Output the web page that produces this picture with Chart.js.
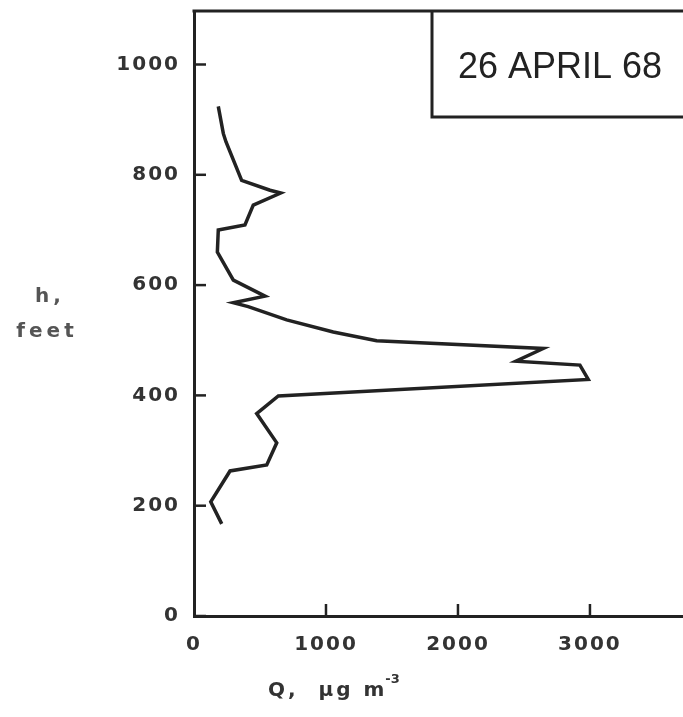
<!DOCTYPE html>
<html>
<head>
<meta charset="utf-8">
<script src="https://cdn.jsdelivr.net/npm/chart.js@4"></script>
<style>
  html, body { margin: 0; padding: 0; background: #fff; }
  #wrap { width: 683px; height: 717px; }
</style>
</head>
<body>
<div id="wrap"><canvas id="myChart" width="683" height="717"></canvas></div>
<script>
// profile, top to bottom
const qValues = [184, 222, 242, 361, 576, 657, 449, 386, 184, 177, 298, 538, 298, 411, 702, 1055, 1384, 2646, 2439, 2924, 2987, 639, 475, 627, 551, 273, 127, 210];
const hValues = [924, 875, 860, 790, 772, 767, 745, 709, 700, 660, 609, 580, 568, 561, 537, 515, 499, 485, 462, 455, 429, 399, 367, 314, 274, 263, 207, 167];

const xTicks = [0, 1000, 2000, 3000];
const yTicks = [0, 200, 400, 600, 800, 1000];

const dateLabel = "26 APRIL 68";
const ink = "#222";
const tickFont = { family: "DejaVu Sans", size: 20, weight: "bold" };

const points = qValues.map((q, i) => ({ x: q, y: hValues[i] }));

// wider letter spacing for the tick labels
const spacing = {
  id: "spacing",
  beforeDraw(chart) {
    chart.ctx.letterSpacing = "2px";
  },
  afterDraw(chart) {
    chart.ctx.letterSpacing = "0px";
  },
};

// frame, inward ticks, date box and axis titles
const decorations = {
  id: "decorations",
  afterDraw(chart) {
    const { ctx, chartArea, scales } = chart;
    ctx.save();
    ctx.letterSpacing = "0px";
    ctx.strokeStyle = ink;
    ctx.lineWidth = 3;
    ctx.lineCap = "butt";

    // top frame line
    ctx.beginPath();
    ctx.moveTo(chartArea.left - 1.5, chartArea.top);
    ctx.lineTo(chart.width, chartArea.top);
    ctx.stroke();

    // inward ticks
    ctx.lineWidth = 2.5;
    yTicks.forEach((v) => {
      const y = scales.y.getPixelForValue(v);
      ctx.beginPath();
      ctx.moveTo(chartArea.left, y);
      ctx.lineTo(chartArea.left + 12, y);
      ctx.stroke();
    });
    xTicks.slice(1).forEach((v) => {
      const x = scales.x.getPixelForValue(v);
      ctx.beginPath();
      ctx.moveTo(x, chartArea.bottom);
      ctx.lineTo(x, chartArea.bottom - 12);
      ctx.stroke();
    });

    // date box
    ctx.lineWidth = 3;
    ctx.beginPath();
    ctx.moveTo(432, chartArea.top);
    ctx.lineTo(432, 117);
    ctx.lineTo(chart.width + 5, 117);
    ctx.stroke();
    ctx.fillStyle = ink;
    ctx.font = "36px 'Liberation Sans'";
    ctx.textAlign = "center";
    ctx.textBaseline = "middle";
    ctx.fillText(dateLabel, 560, 68);

    // y title
    ctx.fillStyle = "#555";
    ctx.font = "bold 20px 'DejaVu Sans'";
    ctx.letterSpacing = "4px";
    ctx.fillText("h,", 50, 297);
    ctx.fillText("feet", 47, 332);

    // x title with superscript
    ctx.fillStyle = "#333";
    ctx.textAlign = "left";
    ctx.letterSpacing = "3px";
    const main = "Q,  \u00b5g m";
    const w = ctx.measureText(main).width;
    const x0 = 268;
    ctx.fillText(main, x0, 691);
    ctx.font = "bold 13px 'DejaVu Sans'";
    ctx.letterSpacing = "0px";
    ctx.fillText("-3", x0 + w - 2, 680);
    ctx.restore();
  },
};

const ctx = document.getElementById("myChart");

new Chart(ctx, {
  type: "scatter",
  data: {
    datasets: [
      {
        label: dateLabel,
        data: points,
        showLine: true,
        borderColor: ink,
        borderWidth: 3.5,
        pointRadius: 0,
        tension: 0,
      },
    ],
  },
  options: {
    responsive: false,
    animation: false,
    layout: { padding: { top: 11, right: 0, left: 0, bottom: 0 } },
    plugins: {
      legend: { display: false },
      tooltip: { enabled: false },
    },
    scales: {
      x: {
        type: "linear",
        min: 0,
        max: 3705,
        grid: { display: false, drawTicks: false, tickLength: 0 },
        border: { display: true, color: ink, width: 3 },
        afterBuildTicks: (scale) => {
          scale.ticks = xTicks.map((v) => ({ value: v }));
        },
        afterFit: (scale) => {
          scale.height = 101;
          scale.paddingLeft = 0;
          scale.paddingRight = 0;
        },
        ticks: {
          color: "#333",
          font: tickFont,
          padding: 17,
          maxRotation: 0,
          callback: (value) => String(value),
        },
      },
      y: {
        type: "linear",
        min: 0,
        max: 1097,
        grid: { display: false, drawTicks: false, tickLength: 0 },
        border: { display: true, color: ink, width: 3 },
        afterBuildTicks: (scale) => {
          scale.ticks = yTicks.map((v) => ({ value: v }));
        },
        afterFit: (scale) => {
          scale.width = 194;
          scale.paddingTop = 0;
          scale.paddingBottom = 0;
        },
        ticks: {
          color: "#333",
          font: tickFont,
          padding: 14,
          callback: (value) => String(value),
        },
      },
    },
  },
  plugins: [spacing, decorations],
});
</script>
</body>
</html>
